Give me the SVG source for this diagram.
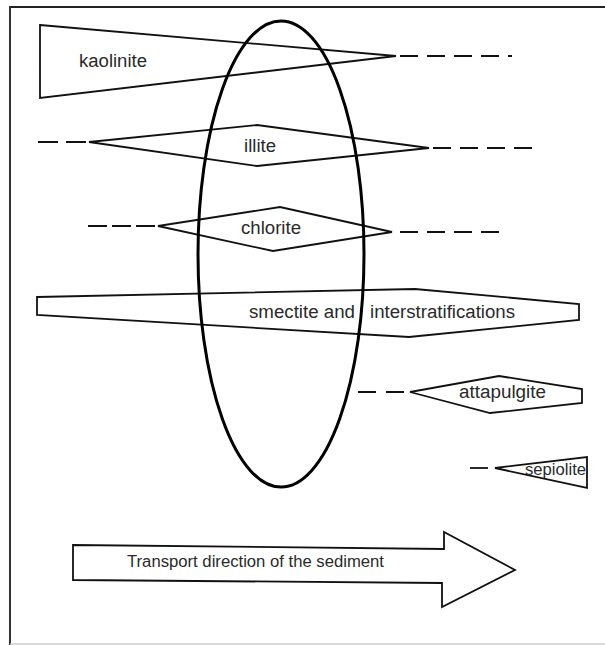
<svg xmlns="http://www.w3.org/2000/svg" width="605" height="645" viewBox="0 0 605 645">
<style>
.shape{fill:#fff;stroke:#111;stroke-width:1.8;stroke-linejoin:miter}
.dash{fill:none;stroke:#111;stroke-width:1.8;stroke-dasharray:18 9}
.lbl{font-family:"Liberation Sans",Arial,sans-serif;font-size:18px;fill:#2a2a2a}
.sm{font-size:16px}
</style>
<rect width="605" height="645" fill="#fff"/>
<g id="frame">
<line x1="9" y1="7" x2="605" y2="7" stroke="#222" stroke-width="2"/>
<line x1="10" y1="6" x2="10" y2="645" stroke="#333" stroke-width="2"/>
<line x1="10" y1="644" x2="605" y2="644" stroke="#ccc" stroke-width="1.5"/>
</g>
<g id="connectors">
<line class="dash" x1="400" y1="56" x2="512" y2="56"/>
<line class="dash" x1="38" y1="142" x2="89" y2="142" style="stroke-dasharray:20 8"/>
<line class="dash" x1="433" y1="148" x2="536" y2="148"/>
<line class="dash" x1="88" y1="226" x2="158" y2="226" style="stroke-dasharray:19 5"/>
<line class="dash" x1="400" y1="232" x2="505" y2="232"/>
<line class="dash" x1="358" y1="392" x2="410" y2="392" style="stroke-dasharray:18 10"/>
<line class="dash" x1="470" y1="468" x2="495" y2="468" style="stroke-dasharray:18 7"/>
</g>
<g id="kaolinite">
<polygon class="shape" points="40,25 396,56 40,98"/>
<text class="lbl" x="79" y="67" textLength="68" lengthAdjust="spacingAndGlyphs">kaolinite</text>
</g>
<g id="illite">
<polygon class="shape" points="89,142 257,125 429,148 257,166"/>
<text class="lbl" x="244" y="152" textLength="32" lengthAdjust="spacingAndGlyphs">illite</text>
</g>
<g id="chlorite">
<polygon class="shape" points="158,226 280,207 392,232 273,251"/>
<text class="lbl" x="241" y="234" textLength="60" lengthAdjust="spacingAndGlyphs">chlorite</text>
</g>
<g id="smectite">
<polygon class="shape" points="37,297 415,289 579,304 579,320 409,337 37,315"/>
<text class="lbl" y="318"><tspan x="249" textLength="106" lengthAdjust="spacingAndGlyphs">smectite and</tspan><tspan x="370" textLength="145" lengthAdjust="spacingAndGlyphs">interstratifications</tspan></text>
</g>
<g id="attapulgite">
<polygon class="shape" points="410,392 499,376 582,389 582,403 490,413"/>
<text class="lbl" x="459" y="398" textLength="87" lengthAdjust="spacingAndGlyphs">attapulgite</text>
</g>
<g id="sepiolite">
<polygon class="shape" points="495,468 587,457 587,488"/>
<text class="lbl sm" x="525" y="475" textLength="61" lengthAdjust="spacingAndGlyphs">sepiolite</text>
</g>
<g id="ellipse">
<ellipse cx="281" cy="254" rx="83" ry="233" fill="none" stroke="#000" stroke-width="3"/>
</g>
<g id="transport-arrow">
<polygon class="shape" points="73,545 444,549 444,532 515,570 442,607 442,583 73,580"/>
<text class="lbl sm" x="127" y="567" textLength="257" lengthAdjust="spacingAndGlyphs">Transport direction of the sediment</text>
</g>
</svg>
